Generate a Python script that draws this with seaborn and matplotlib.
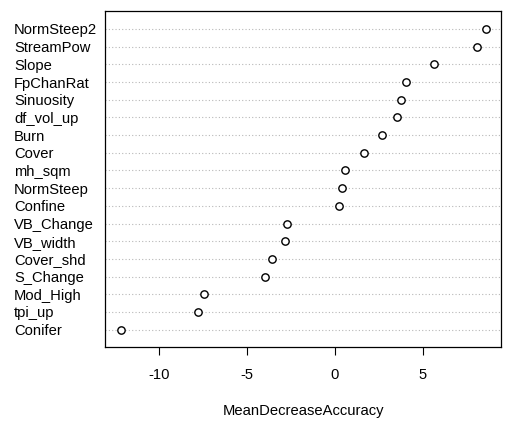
import matplotlib
matplotlib.use("Agg")
import matplotlib.pyplot as plt
import seaborn as sns
import pandas as pd
import numpy as np

variables = ["NormSteep2", "StreamPow", "Slope", "FpChanRat", "Sinuosity", "df_vol_up",
             "Burn", "Cover", "mh_sqm", "NormSteep", "Confine", "VB_Change", "VB_width",
             "Cover_shd", "S_Change", "Mod_High", "tpi_up", "Conifer"]
mda = [8.59, 8.06, 5.62, 4.03, 3.78, 3.52, 2.70, 1.66, 0.56, 0.39, 0.26,
       -2.70, -2.85, -3.55, -3.97, -7.41, -7.79, -12.16]
xticks = [-10, -5, 0, 5]
xlabel = "MeanDecreaseAccuracy"

sns.set_theme(style="white")
plt.rcParams['font.family'] = ['Liberation Sans', 'DejaVu Sans']

df = pd.DataFrame({"var": variables, "val": mda, "pos": np.arange(len(variables))})

fig = plt.figure(figsize=(5.08, 4.33), dpi=100)
ax = fig.add_axes([105.3/508, 1-347.3/433, (500.7-105.3)/508, (347.3-11.3)/433])

for p in df["pos"]:
    ax.axhline(p, color="#b8b8b8", linestyle=(0, (1, 2)), linewidth=0.8, zorder=1)

sns.scatterplot(data=df, x="val", y="pos", ax=ax, marker="o", s=28,
                facecolor="white", edgecolor="black", linewidth=1.0, zorder=3, legend=False)

fs = 10.6
ax.set_xlim(-13.04, 9.43)
ax.set_ylim(len(variables), -1)
ax.set_yticks(df["pos"])
ax.set_yticklabels(df["var"], ha="left", fontsize=fs, color="black")
ax.tick_params(axis="y", length=0, pad=65.7)
ax.set_xticks(xticks)
ax.set_xticklabels([str(t) for t in xticks], fontsize=fs, color="black")
ax.tick_params(axis="x", length=6, width=0.8, color="black", pad=9, bottom=True, direction="out")
ax.set_xlabel(xlabel, fontsize=fs, labelpad=16, color="black")
ax.set_ylabel("")
for s in ax.spines.values():
    s.set_color("black")
    s.set_linewidth(0.9)
    s.set_visible(True)

fig.savefig("out.png", dpi=100, facecolor="white")
